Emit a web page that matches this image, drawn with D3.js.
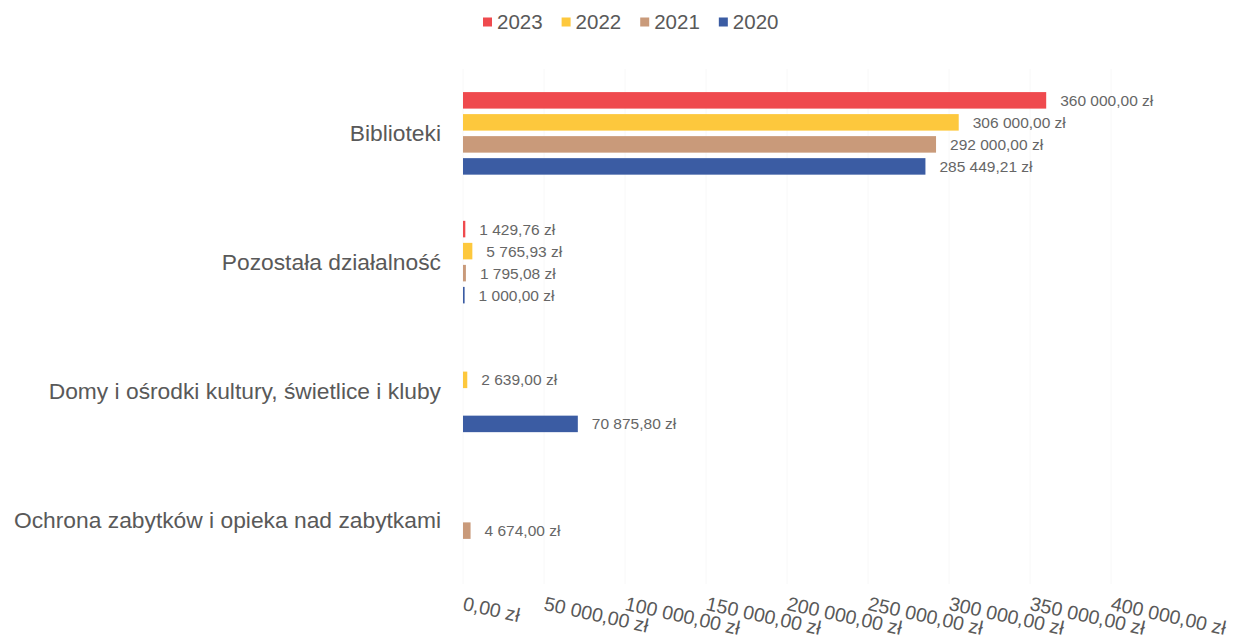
<!DOCTYPE html>
<html>
<head>
<meta charset="utf-8">
<script src="https://cdn.jsdelivr.net/npm/d3@7/dist/d3.min.js"></script>
<style>
  html, body { margin: 0; padding: 0; background: #fff; }
  svg { display: block; font-family: "Liberation Sans", Arial, sans-serif; }
</style>
</head>
<body>
<svg id="chart" width="1234" height="642"></svg>
<script>
// Expenditure by culture sub-chapter, per year
const categories = [
  "Biblioteki",
  "Pozostała działalność",
  "Domy i ośrodki kultury, świetlice i kluby",
  "Ochrona zabytków i opieka nad zabytkami"
];
const years = ["2023", "2022", "2021", "2020"];
const values2023 = [360000.00, 1429.76, null, null];
const values2022 = [306000.00, 5765.93, 2639.00, null];
const values2021 = [292000.00, 1795.08, null, 4674.00];
const values2020 = [285449.21, 1000.00, 70875.80, null];
const tickValues = [0, 50000, 100000, 150000, 200000, 250000, 300000, 350000, 400000];
const colors = ["#ef4a4e", "#fdc83d", "#c99a7a", "#3b5ca3"];

const seriesValues = [values2023, values2022, values2021, values2020];
const rows = [];
categories.forEach((c, ci) => {
  years.forEach((y, yi) => {
    const v = seriesValues[yi][ci];
    if (v !== null) rows.push({ category: c, year: y, value: v });
  });
});

const plLocale = d3.formatLocale({
  decimal: ",", thousands: "\u00a0", grouping: [3], currency: ["", " zł"]
});
const fmtNum = plLocale.format(",.2f");
const fmt = v => fmtNum(v).replace(/\u00a0/g, " ") + " zł";

const svg = d3.select("#chart");

const x = d3.scaleLinear().domain([0, 400000]).range([463, 1111]);
const y0 = d3.scaleBand().domain(categories).range([69, 584])
  .paddingInner(0.316).paddingOuter(0.158);
const y1 = d3.scaleBand().domain(years).range([0, y0.bandwidth()])
  .paddingInner(0.25).paddingOuter(0.125);
const color = d3.scaleOrdinal().domain(years).range(colors);

// faint vertical gridlines
svg.append("g").selectAll("line").data(tickValues).join("line")
  .attr("x1", d => x(d)).attr("x2", d => x(d))
  .attr("y1", 69).attr("y2", 584)
  .attr("stroke", "#f8f8f8").attr("stroke-width", 1);

// bars
svg.append("g").selectAll("rect").data(rows).join("rect")
  .attr("x", x(0))
  .attr("y", d => y0(d.category) + y1(d.year))
  .attr("width", d => x(d.value) - x(0))
  .attr("height", y1.bandwidth())
  .attr("fill", d => color(d.year));

// value labels
svg.append("g").selectAll("text").data(rows).join("text")
  .attr("x", d => x(d.value) + 14)
  .attr("y", d => y0(d.category) + y1(d.year) + y1.bandwidth() / 2)
  .attr("dy", "0.35em")
  .attr("font-size", 15.5)
  .attr("fill", "#666")
  .text(d => fmt(d.value));

// category axis labels
svg.append("g").selectAll("text").data(categories).join("text")
  .attr("x", 441)
  .attr("y", d => y0(d) + y0.bandwidth() / 2)
  .attr("dy", "0.35em")
  .attr("text-anchor", "end")
  .attr("font-size", 22.8)
  .attr("fill", "#595959")
  .text(d => d);

// value axis tick labels (rotated)
const xAxis = d3.axisBottom(x).tickValues(tickValues).tickSize(0).tickFormat(fmt);
const gx = svg.append("g").attr("transform", "translate(0,603)").call(xAxis);
gx.select(".domain").remove();
gx.selectAll("text")
  .attr("font-size", 19.5)
  .attr("font-family", "\"Liberation Sans\", Arial, sans-serif")
  .attr("fill", "#595959")
  .attr("text-anchor", "start")
  .attr("x", 0).attr("y", 0).attr("dy", "0.35em")
  .attr("transform", "rotate(12.5)");

// legend
const legend = svg.append("g");
let lx = 483;
years.forEach(yr => {
  const g = legend.append("g").attr("transform", `translate(${lx},0)`);
  g.append("rect").attr("x", 0).attr("y", 17.5).attr("width", 9).attr("height", 9)
    .attr("fill", color(yr));
  const t = g.append("text").attr("x", 14).attr("y", 22).attr("dy", "0.35em")
    .attr("font-size", 20.5).attr("fill", "#595959").text(yr);
  lx += 14 + t.node().getComputedTextLength() + 19;
});
</script>
</body>
</html>
